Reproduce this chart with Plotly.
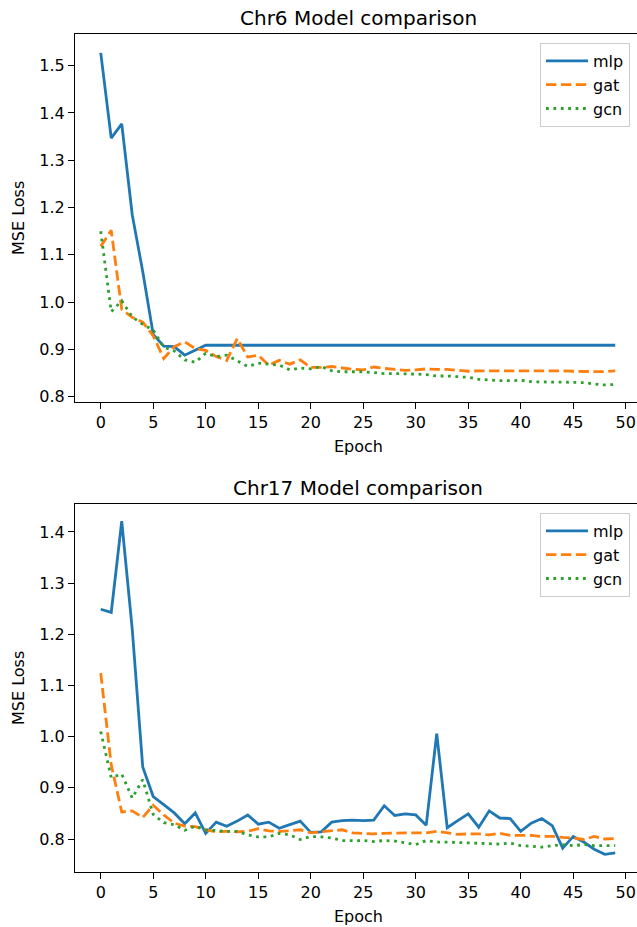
import plotly.graph_objects as go

epochs = list(range(50))

chr6_mlp = [1.527, 1.347, 1.377, 1.185, 1.065, 0.932, 0.907, 0.906, 0.888, 0.898,
            0.909, 0.909, 0.909, 0.909, 0.909, 0.909, 0.909, 0.909, 0.909, 0.909,
            0.909, 0.909, 0.909, 0.909, 0.909, 0.909, 0.909, 0.909, 0.909, 0.909,
            0.909, 0.909, 0.909, 0.909, 0.909, 0.909, 0.909, 0.909, 0.909, 0.909,
            0.909, 0.909, 0.910, 0.910, 0.909, 0.909, 0.909, 0.909, 0.909, 0.909]
chr6_gat = [1.118, 1.152, 0.985, 0.968, 0.958, 0.929, 0.881, 0.906, 0.916, 0.902,
            0.898, 0.885, 0.877, 0.923, 0.884, 0.888, 0.867, 0.877, 0.869, 0.878,
            0.862, 0.862, 0.864, 0.861, 0.858, 0.857, 0.863, 0.860, 0.858, 0.856,
            0.857, 0.859, 0.858, 0.858, 0.856, 0.854, 0.855, 0.855, 0.855, 0.855,
            0.855, 0.855, 0.855, 0.856, 0.855, 0.854, 0.854, 0.854, 0.853, 0.855]
chr6_gcn = [1.150, 0.980, 1.003, 0.969, 0.953, 0.941, 0.905, 0.897, 0.878, 0.873,
            0.892, 0.885, 0.888, 0.876, 0.864, 0.871, 0.869, 0.867, 0.857, 0.861,
            0.859, 0.864, 0.855, 0.853, 0.853, 0.853, 0.851, 0.849, 0.849, 0.849,
            0.848, 0.847, 0.844, 0.844, 0.842, 0.841, 0.837, 0.835, 0.834, 0.834,
            0.835, 0.832, 0.831, 0.831, 0.831, 0.830, 0.830, 0.827, 0.825, 0.826]

chr17_mlp = [1.249, 1.243, 1.421, 1.210, 0.941, 0.883, 0.867, 0.851, 0.830, 0.851,
             0.811, 0.833, 0.825, 0.835, 0.847, 0.829, 0.833, 0.821, 0.828, 0.835,
             0.813, 0.814, 0.833, 0.836, 0.837, 0.836, 0.837, 0.865, 0.846, 0.849,
             0.847, 0.827, 1.006, 0.822, 0.836, 0.849, 0.823, 0.855, 0.841, 0.840,
             0.815, 0.831, 0.840, 0.826, 0.782, 0.805, 0.794, 0.780, 0.770, 0.773]
chr17_gat = [1.124, 0.945, 0.853, 0.855, 0.842, 0.866, 0.847, 0.831, 0.825, 0.824,
             0.818, 0.814, 0.815, 0.814, 0.815, 0.820, 0.816, 0.815, 0.816, 0.818,
             0.812, 0.814, 0.815, 0.818, 0.812, 0.811, 0.810, 0.811, 0.812, 0.812,
             0.812, 0.812, 0.815, 0.812, 0.809, 0.810, 0.810, 0.808, 0.811, 0.807,
             0.807, 0.807, 0.805, 0.805, 0.803, 0.802, 0.799, 0.805, 0.800, 0.801]
chr17_gcn = [1.010, 0.920, 0.927, 0.880, 0.916, 0.848, 0.832, 0.828, 0.817, 0.825,
             0.818, 0.816, 0.815, 0.815, 0.808, 0.804, 0.804, 0.811, 0.808, 0.799,
             0.805, 0.804, 0.802, 0.797, 0.797, 0.797, 0.795, 0.797, 0.796, 0.792,
             0.789, 0.797, 0.794, 0.794, 0.793, 0.793, 0.792, 0.790, 0.790, 0.792,
             0.787, 0.786, 0.784, 0.787, 0.789, 0.787, 0.789, 0.787, 0.787, 0.787]

series_names = ["mlp", "gat", "gcn"]
colors = ["#1f77b4", "#ff7f0e", "#2ca02c"]
dashes = ["solid", "10.4px,4.5px", "2.8px,4.6px"]
titles = ["Chr6 Model comparison", "Chr17 Model comparison"]
x_ticks = list(range(0, 51, 5))

FONT = "DejaVu Sans"
W, H = 637, 927
ml, mr, mt, mb = 75, 0, 34, 55
ph = H - mt - mb  # 838

def py2paper(py):
    return (H - mb - py) / ph

fig = go.Figure()

panels = [
    (["x", "y"], [chr6_mlp, chr6_gat, chr6_gcn], "legend"),
    (["x2", "y2"], [chr17_mlp, chr17_gat, chr17_gcn], "legend2"),
]
for (xa, ya), data, lg in panels:
    for name, vals, c, d in zip(series_names, data, colors, dashes):
        fig.add_trace(go.Scatter(
            x=epochs, y=vals, mode="lines", name=name,
            line=dict(color=c, width=2.8, dash=d),
            xaxis=xa, yaxis=ya, legend=lg, showlegend=True,
        ))

axis_common = dict(
    showline=True, linecolor="black", linewidth=1.2,
    ticks="outside", ticklen=6, tickwidth=1.2, tickcolor="black",
    showgrid=False, zeroline=False,
    tickfont=dict(family=FONT, size=16, color="black"),
)

x_range = [-2.45, -2.45 + (W - ml - mr) / 10.5]

legend_common = dict(
    xanchor="right", yanchor="top",
    bgcolor="white", bordercolor="#cccccc", borderwidth=1,
    font=dict(family=FONT, size=16, color="black"), tracegroupgap=0,
    itemwidth=42,
)

fig.update_layout(
    width=W, height=H,
    margin=dict(l=ml, r=mr, t=mt, b=mb),
    paper_bgcolor="white", plot_bgcolor="white",
    font=dict(family=FONT, size=16, color="black"),
    xaxis=dict(domain=[0, 1], anchor="y", range=x_range, tickvals=x_ticks,
               mirror=True, **axis_common),
    yaxis=dict(domain=[py2paper(402), 1], anchor="x", range=[0.789, 1.567],
               tickvals=[0.8, 0.9, 1.0, 1.1, 1.2, 1.3, 1.4, 1.5], tickformat=".1f",
               **axis_common),
    xaxis2=dict(domain=[0, 1], anchor="y2", range=x_range, tickvals=x_ticks,
                mirror=True, **axis_common),
    yaxis2=dict(domain=[0, py2paper(504)], anchor="x2", range=[0.7355, 1.4547],
                tickvals=[0.8, 0.9, 1.0, 1.1, 1.2, 1.3, 1.4], tickformat=".1f",
                **axis_common),
    legend=dict(x=(630 - ml) / (W - ml - mr), y=py2paper(43), **legend_common),
    legend2=dict(x=(630 - ml) / (W - ml - mr), y=py2paper(513), **legend_common),
    showlegend=True,
)

cx = (358 - ml) / (W - ml - mr)
annots = [
    (titles[0], cx, py2paper(18), 0, 20),
    (titles[1], cx, py2paper(488), 0, 20),
    ("Epoch", cx, py2paper(446), 0, 16),
    ("Epoch", cx, py2paper(916), 0, 16),
    ("MSE Loss", (18 - ml) / (W - ml - mr), py2paper(218), -90, 16),
    ("MSE Loss", (18 - ml) / (W - ml - mr), py2paper(688), -90, 16),
]
for text, x, y, ang, size in annots:
    fig.add_annotation(text=text, x=x, y=y, xref="paper", yref="paper",
                       xanchor="center", yanchor="middle", showarrow=False,
                       textangle=ang, font=dict(family=FONT, size=size, color="black"))

fig.write_html(
    "out.html",
    config={"displayModeBar": False},
    post_script="document.body.style.margin='0';document.body.style.padding='0';"
                "document.body.style.overflow='hidden';",
)
